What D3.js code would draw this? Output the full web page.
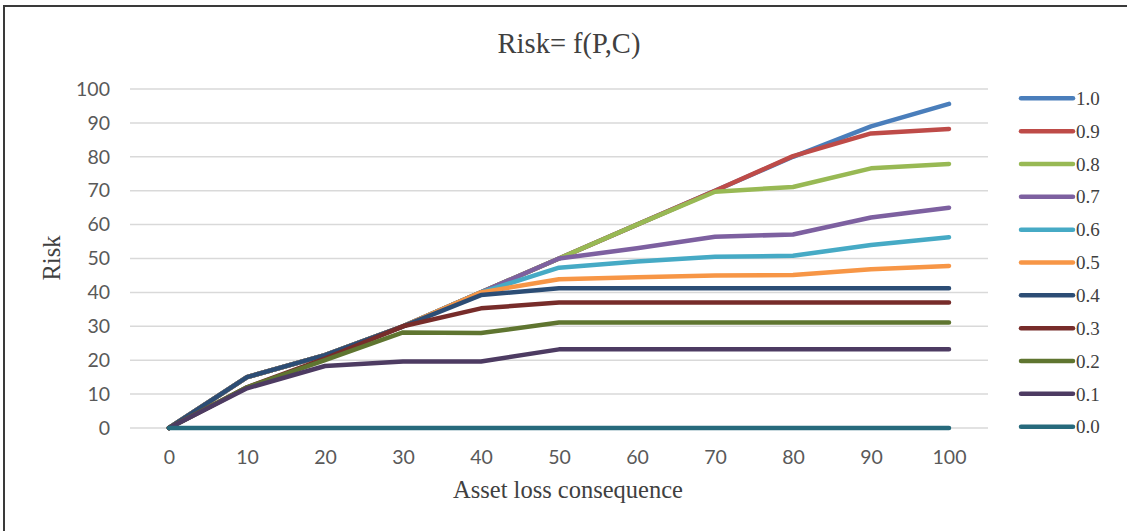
<!DOCTYPE html>
<html>
<head>
<meta charset="utf-8">
<script src="https://cdn.jsdelivr.net/npm/d3@7"></script>
<style>
  html, body { margin: 0; padding: 0; background: #fff; }
  svg { display: block; }
</style>
</head>
<body>
<svg id="chart" width="1127" height="531"></svg>
<script>
// Asset loss consequence (x categories)
const consequence = [0, 10, 20, 30, 40, 50, 60, 70, 80, 90, 100];
const yTicks = [0, 10, 20, 30, 40, 50, 60, 70, 80, 90, 100];

// Risk for each probability level
const p10 = [0, 15, 21.5, 30, 40, 50, 60, 70, 80, 89, 95.6];
const p09 = [0, 15, 21.5, 30, 40, 50, 60, 70, 80.2, 86.9, 88.2];
const p08 = [0, 15, 21.5, 30, 40, 50, 60, 69.7, 71.1, 76.6, 77.9];
const p07 = [0, 15, 21.5, 30, 40, 50, 53, 56.4, 57.1, 62.1, 65];
const p06 = [0, 15, 21.5, 30, 40, 47.3, 49.1, 50.5, 50.8, 54, 56.3];
const p05 = [0, 15, 21.5, 30, 40, 43.9, 44.5, 45, 45.1, 46.8, 47.8];
const p04 = [0, 15, 21.5, 30, 39.2, 41.2, 41.2, 41.2, 41.2, 41.2, 41.2];
const p03 = [0, 12, 20.5, 30, 35.3, 37, 37, 37, 37, 37, 37];
const p02 = [0, 12, 20, 28.2, 28, 31.1, 31.1, 31.1, 31.1, 31.1, 31.1];
const p01 = [0, 11.7, 18.3, 19.6, 19.6, 23.2, 23.2, 23.2, 23.2, 23.2, 23.2];
const p00 = [0, 0, 0, 0, 0, 0, 0, 0, 0, 0, 0];

const seriesNames = ["1.0", "0.9", "0.8", "0.7", "0.6", "0.5", "0.4", "0.3", "0.2", "0.1", "0.0"];
const seriesValues = [p10, p09, p08, p07, p06, p05, p04, p03, p02, p01, p00];
const seriesColors = ["#4a7ebb", "#be4b48", "#98b954", "#7d60a0", "#46aac5", "#f79646",
                      "#2c4d75", "#772c2a", "#5f7530", "#4d3b62", "#276a7c"];

const series = seriesNames.map((name, i) => ({
  name,
  color: seriesColors[i],
  values: consequence.map((c, j) => ({ c, v: seriesValues[i][j] }))
}));

const svg = d3.select("#chart");
const serif = "'Liberation Serif', 'Times New Roman', serif";
const sans = "Lato, 'Open Sans', sans-serif";

// chart frame
svg.append("rect")
  .attr("x", 4).attr("y", 6)
  .attr("width", 1300).attr("height", 700)
  .attr("fill", "#fff")
  .attr("stroke", "#3a3a3a")
  .attr("stroke-width", 2);

const plot = { left: 130, right: 988, top: 89, bottom: 428 };

const x = d3.scalePoint()
  .domain(consequence)
  .range([plot.left, plot.right])
  .padding(0.5);

const y = d3.scaleLinear()
  .domain([0, 100])
  .range([plot.bottom, plot.top]);

// horizontal gridlines
svg.append("g")
  .selectAll("line")
  .data(yTicks)
  .join("line")
  .attr("x1", plot.left)
  .attr("x2", plot.right)
  .attr("y1", d => y(d))
  .attr("y2", d => y(d))
  .attr("stroke", "#d9d9d9")
  .attr("stroke-width", 1.5);

// y axis labels
const yAxis = svg.append("g")
  .attr("transform", `translate(${plot.left - 20},0)`)
  .call(d3.axisLeft(y).tickValues(yTicks).tickSize(0).tickPadding(0));
yAxis.select(".domain").remove();
yAxis.selectAll("text")
  .attr("font-family", sans)
  .attr("font-size", 19.5)
  .attr("fill", "#595959");

// x axis labels
const xAxis = svg.append("g")
  .attr("transform", `translate(0,${plot.bottom + 22})`)
  .call(d3.axisBottom(x).tickSize(0).tickPadding(0));
xAxis.select(".domain").remove();
xAxis.selectAll("text")
  .attr("font-family", sans)
  .attr("font-size", 19.5)
  .attr("fill", "#595959");

// series lines, drawn from 1.0 down to 0.0
const line = d3.line()
  .x(d => x(d.c))
  .y(d => y(d.v));

svg.append("g")
  .selectAll("path")
  .data(series)
  .join("path")
  .attr("d", d => line(d.values))
  .attr("fill", "none")
  .attr("stroke", d => d.color)
  .attr("stroke-width", 4.5)
  .attr("stroke-linejoin", "round")
  .attr("stroke-linecap", "round");

// legend
const legend = svg.append("g")
  .selectAll("g")
  .data(series)
  .join("g")
  .attr("transform", (d, i) => `translate(1021,${98.3 + i * 32.84})`);
legend.append("line")
  .attr("x1", 0).attr("x2", 52)
  .attr("stroke", d => d.color)
  .attr("stroke-width", 4.5)
  .attr("stroke-linecap", "round");
legend.append("text")
  .attr("x", 55)
  .attr("dy", "0.35em")
  .attr("font-family", serif)
  .attr("font-size", 19)
  .attr("fill", "#404040")
  .text(d => d.name);

// titles
svg.append("text")
  .attr("x", 569).attr("y", 53)
  .attr("text-anchor", "middle")
  .attr("font-family", serif)
  .attr("font-size", 28.5)
  .attr("fill", "#404040")
  .text("Risk= f(P,C)");

svg.append("text")
  .attr("x", 568).attr("y", 498)
  .attr("text-anchor", "middle")
  .attr("font-family", serif)
  .attr("font-size", 24.5)
  .attr("fill", "#404040")
  .text("Asset loss consequence");

svg.append("text")
  .attr("transform", "translate(60,258) rotate(-90)")
  .attr("text-anchor", "middle")
  .attr("font-family", serif)
  .attr("font-size", 24.5)
  .attr("fill", "#404040")
  .text("Risk");
</script>
</body>
</html>
